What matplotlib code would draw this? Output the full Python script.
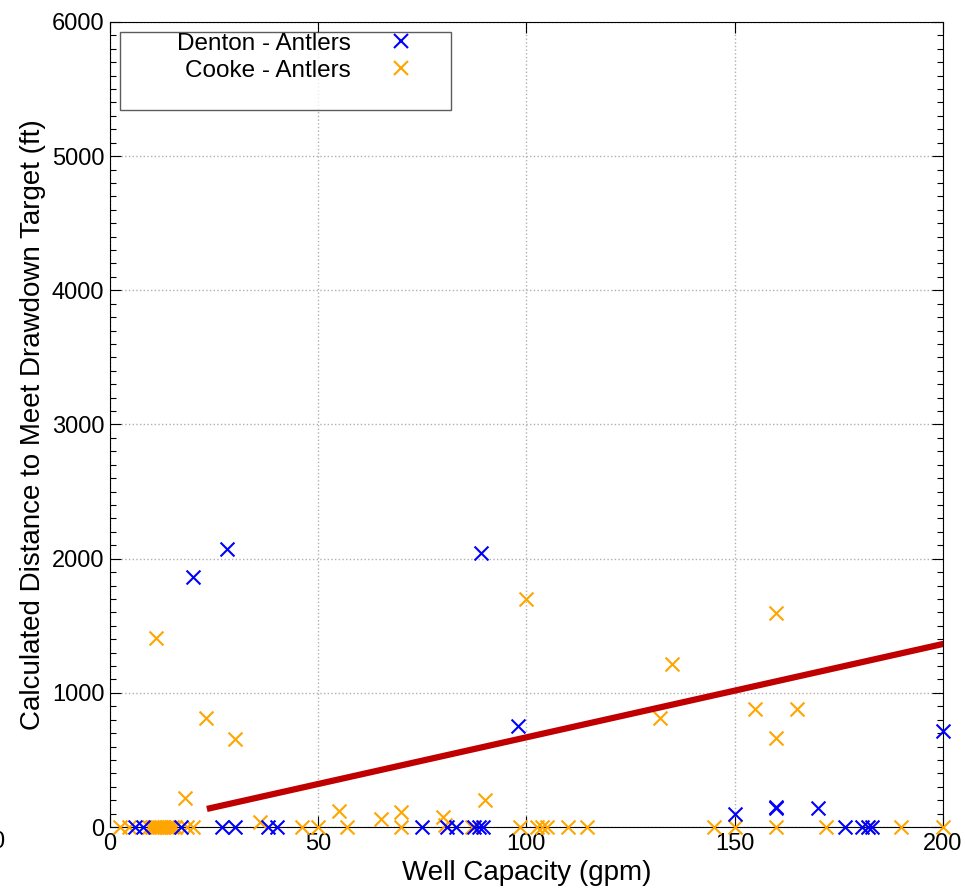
import matplotlib
matplotlib.use("Agg")
import matplotlib.pyplot as plt
from matplotlib.lines import Line2D
from matplotlib.ticker import MultipleLocator

plt.rcParams['font.family'] = ['Liberation Sans', 'DejaVu Sans']

# well capacity (gpm) vs distance needed to hit the drawdown target (ft)
denton_gpm = [6, 8, 17, 20, 27, 28, 30, 38, 40, 75, 81, 83, 87.5, 88.5, 89, 89.5,
              98, 150, 160, 160, 170, 176.5, 180.5, 182, 183, 200]
denton_dist = [0, 0, 0, 1860, 0, 2070, 0, 0, 0, 0, 0, 0, 0, 0, 2040, 0,
               750, 95, 140, 150, 140, 0, 0, 0, 0, 715]

cooke_gpm = [2.5, 4.5, 9.4, 10.1, 10.6, 11, 11.2, 11.8, 12.3, 13.0, 13.6, 14.2, 15.0, 15.7,
             18, 18.5, 20, 23, 30, 36, 46, 50, 55, 57, 65, 70, 70, 80, 80.5, 87, 90,
             98.5, 100, 102.5, 103.7, 105, 110, 114.5, 132, 135, 145, 150, 155,
             160, 160, 160, 165, 172, 182, 190, 200]
cooke_dist = [0, 0, 0, 0, 0, 1410, 0, 0, 0, 0, 0, 0, 0, 0,
              215, 0, 0, 810, 655, 35, 0, 0, 120, 0, 60, 110, 0, 75, 15, 0, 200,
              0, 1700, 0, 0, 0, 0, 0, 810, 1215, 0, 0, 880,
              1595, 665, 0, 880, 0, 0, 0, 0]

# trend line end points
fit_gpm = [24, 200]
fit_dist = [140, 1364]

fig = plt.figure(figsize=(9.65, 8.89), dpi=100)
ax = fig.add_axes([0.114, 0.0697, 0.863, 0.9056])

ax.scatter(cooke_gpm, cooke_dist, marker='x', s=100, linewidths=1.5,
           color='orange', clip_on=False, zorder=3)
ax.scatter(denton_gpm, denton_dist, marker='x', s=100, linewidths=1.5,
           color='blue', clip_on=False, zorder=4)
ax.plot(fit_gpm, fit_dist, color='#c00000', linewidth=4.5, zorder=5)

ax.set_xlim(0, 200)
ax.set_ylim(0, 6000)
ax.xaxis.set_major_locator(MultipleLocator(50))
ax.yaxis.set_major_locator(MultipleLocator(1000))
ax.yaxis.set_minor_locator(MultipleLocator(100))
ax.tick_params(which='both', direction='in', top=True, right=True, labelsize=17, width=0.8)
ax.tick_params(which='major', length=8, pad=4)
ax.tick_params(which='minor', length=4)
ax.grid(True, which='major', color='#b0b0b0', linestyle=':', linewidth=1)

ax.set_xlabel('Well Capacity (gpm)', fontsize=20)
ax.set_ylabel('Calculated Distance to Meet Drawdown Target (ft)', fontsize=20)

handles = [
    Line2D([], [], marker='x', linestyle='none', color='blue', markersize=10, markeredgewidth=1.5),
    Line2D([], [], marker='x', linestyle='none', color='orange', markersize=10, markeredgewidth=1.5),
    Line2D([], [], linestyle='none'),
]
# blank third row keeps the box wide and tall
labels = ['Denton - Antlers', 'Cooke - Antlers', ' ' * 34]
leg = ax.legend(handles, labels, loc='upper left', markerfirst=False, fontsize=17.5,
                fancybox=False, borderaxespad=0.4, labelspacing=0.2,
                handletextpad=0.12, borderpad=0.05, handlelength=3.95)
leg.get_frame().set_edgecolor('#333333')
leg.get_frame().set_linewidth(1.0)

fig.text(4 / 965, 1 - 842 / 889, '0', ha='right', va='center', fontsize=17)

fig.savefig('out.png', dpi=100)
